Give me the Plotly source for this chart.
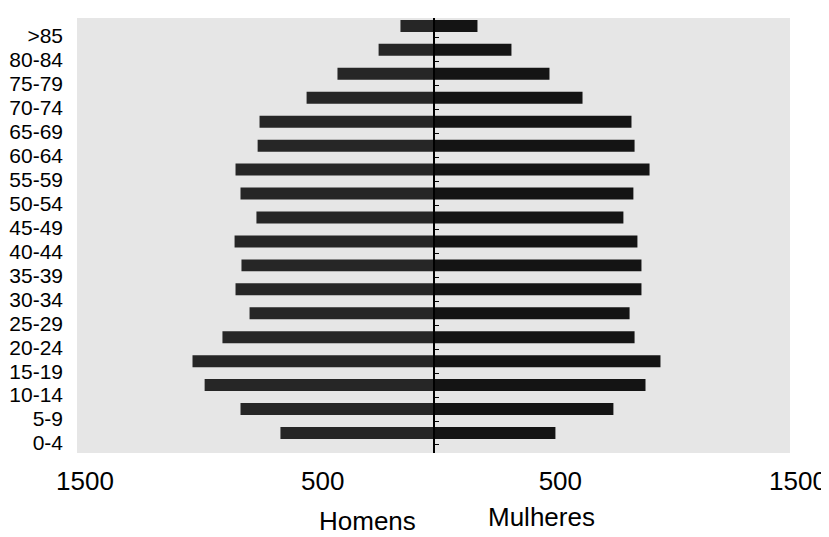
import plotly.graph_objects as go

age_groups = ["0-4", "5-9", "10-14", "15-19", "20-24", "25-29", "30-34", "35-39",
              "40-44", "45-49", "50-54", "55-59", "60-64", "65-69", "70-74",
              "75-79", "80-84", ">85"]
homens = [644, 812, 963, 1014, 888, 774, 833, 808, 837, 745, 812, 833, 740, 732,
          534, 404, 231, 139]
mulheres = [513, 757, 892, 955, 846, 825, 875, 875, 858, 799, 841, 909, 846, 833,
            627, 488, 328, 185]
tick_vals = [-1500, -500, 500, 1500]
tick_text = ["1500", "500", "500", "1500"]

FONT = "Liberation Sans, Arial, sans-serif"
y_range = [-0.835, 17.33]

fig = go.Figure()
fig.add_trace(go.Bar(y=age_groups, x=[-v for v in homens], orientation="h",
                     name="Homens", marker=dict(color="#262626", line=dict(width=0))))
fig.add_trace(go.Bar(y=age_groups, x=mulheres, orientation="h", yaxis="y2",
                     name="Mulheres", marker=dict(color="#141414", line=dict(width=0))))

# page body has an 8px default margin, so the figure is sized to fit the window
fig.update_layout(
    width=821, height=529,
    barmode="overlay", bargap=0.5,
    showlegend=False,
    paper_bgcolor="white", plot_bgcolor="#e6e6e6",
    margin=dict(l=69, r=39, t=10, b=84),
    font=dict(family=FONT, color="black"),
    xaxis=dict(range=[-1500, 1500], tickvals=tick_vals, ticktext=tick_text,
               showgrid=False, zeroline=False, automargin=False,
               tickfont=dict(size=26), ticks="", ticklabelstandoff=10,
               ticklabelshift=8, showline=False, fixedrange=True),
    yaxis=dict(categoryorder="array", categoryarray=age_groups, range=y_range,
               tickmode="array", tickvals=age_groups, ticktext=age_groups,
               showgrid=False, automargin=False,
               tickfont=dict(size=21), ticks="", ticklabelstandoff=13,
               ticklabelshift=10, showline=False, fixedrange=True),
    yaxis2=dict(categoryorder="array", categoryarray=age_groups, range=y_range,
                overlaying="y", anchor="free", position=0.5, side="right",
                showgrid=False, showticklabels=False, ticks="outside",
                tickson="boundaries", ticklen=5, tickwidth=1, tickcolor="black",
                showline=True, linecolor="black", linewidth=1.5,
                automargin=False, fixedrange=True),
    annotations=[
        dict(text="Homens", xref="paper", yref="paper", x=0.408, y=-0.156,
             showarrow=False, font=dict(size=26), xanchor="center", yanchor="middle"),
        dict(text="Mulheres", xref="paper", yref="paper", x=0.651, y=-0.147,
             showarrow=False, font=dict(size=26), xanchor="center", yanchor="middle"),
    ],
)

fig.write_html("out.html")
